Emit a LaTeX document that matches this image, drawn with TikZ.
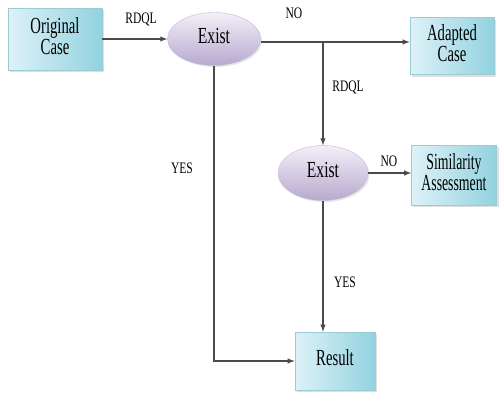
\documentclass[tikz,border=0pt]{standalone}
\usepackage{fontspec}
\setmainfont{Liberation Serif}
\usetikzlibrary{arrows,shapes.geometric,shadows}

\definecolor{boxlight}{HTML}{DDF2F7}
\definecolor{boxdark}{HTML}{92D2E0}
\definecolor{boxedge}{HTML}{9CCBD6}
\definecolor{ovallight}{HTML}{F3EFF8}
\definecolor{ovaldark}{HTML}{B7AACF}
\definecolor{wire}{HTML}{4A4A4A}

\newcommand{\squeeze}[2][.64]{\scalebox{#1}[1]{\begin{tabular}{@{}c@{}}#2\end{tabular}}}

\tikzset{
  casebox/.style={rectangle,draw=boxedge,line width=.6pt,left color=boxlight,right color=boxdark,
    drop shadow={shadow xshift=2pt,shadow yshift=-2pt,opacity=.25},
    inner sep=0pt,font=\fontsize{23}{20}\selectfont},
  test/.style={ellipse,draw=ovaldark!80,line width=.4pt,top color=ovallight,bottom color=ovaldark,
    drop shadow={shadow xshift=1.5pt,shadow yshift=-1.5pt,opacity=.2},
    inner sep=0pt,font=\fontsize{23}{20}\selectfont},
  lbl/.style={font=\fontsize{16}{16}\selectfont},
  arr/.style={draw=wire,line width=1.4pt,-latex}
}

\begin{document}
\begin{tikzpicture}[x=1pt,y=-1pt]
  \useasboundingbox (0,0) rectangle (499,394);

  \node[casebox,minimum width=94pt,minimum height=62pt] (orig) at (55,39) {\squeeze{Original\\Case}};
  \node[test,minimum width=93pt,minimum height=53pt] (exist1) at (214,39) {\squeeze[.68]{Exist}};
  \node[casebox,minimum width=84pt,minimum height=57pt] (adapted) at (452,46) {\squeeze{Adapted\\Case}};
  \node[test,minimum width=90pt,minimum height=55pt] (exist2) at (323,173) {\squeeze[.68]{Exist}};
  \node[casebox,minimum width=85pt,minimum height=60pt] (simil) at (454,175) {\squeeze[.6]{Similarity\\Assessment}};
  \node[casebox,minimum width=80pt,minimum height=58pt] (result) at (335,361) {\squeeze{Result}};

  \coordinate (split) at (323,42);

  \draw[arr] (orig) -- (exist1);
  \draw[arr] (exist1.east |- split) -- (adapted.west |- split);
  \draw[arr] (split) -- (exist2.north);
  \draw[arr] (exist2) -- (simil.west |- exist2);
  \draw[arr] (exist2.south) -- (exist2.south |- result.north);
  \draw[arr] (exist1.south) |- (result.west);

  \node[lbl] (rdql1) at (141,20) {\squeeze[.72]{RDQL}};
  \node[lbl] (no1) at (294,15) {\squeeze[.72]{NO}};
  \node[lbl] (rdql2) at (348,88) {\squeeze[.72]{RDQL}};
  \node[lbl] (yes1) at (182,170) {\squeeze[.72]{YES}};
  \node[lbl] (no2) at (389,163) {\squeeze[.72]{NO}};
  \node[lbl] (yes2) at (345,284) {\squeeze[.72]{YES}};
\end{tikzpicture}
\end{document}
